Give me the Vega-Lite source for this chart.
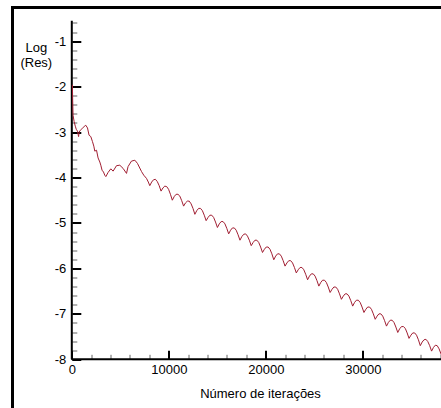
{
  "$schema": "https://vega.github.io/schema/vega-lite/v6.json",
  "width": 460,
  "height": 420,
  "autosize": "none",
  "padding": {"left": 12.5, "top": 7.5, "right": 0, "bottom": 0},
  "background": "white",
  "config": {
    "view": {"stroke": "black", "strokeWidth": 3},
    "font": "Liberation Sans"
  },
  "layer": [
    {
      "data": {"values": [{}]},
      "mark": {"type": "rule", "color": "black", "strokeWidth": 2},
      "encoding": {
        "x": {"datum": 0, "type": "quantitative"},
        "y": {"datum": -8, "type": "quantitative"},
        "y2": {"datum": -0.55}
      }
    },
    {
      "data": {"values": [{}]},
      "mark": {"type": "rule", "color": "black", "strokeWidth": 2},
      "encoding": {
        "x": {"datum": 0, "type": "quantitative"},
        "x2": {"datum": 41310},
        "y": {"datum": -8, "type": "quantitative"}
      }
    },
    {
      "data": {"values": [
        {"iter": 60, "logres": -1.96}, {"iter": 90, "logres": -2.29}, {"iter": 130, "logres": -2.63}, {"iter": 240, "logres": -2.77},
        {"iter": 360, "logres": -2.87}, {"iter": 460, "logres": -2.94}, {"iter": 590, "logres": -2.98}, {"iter": 650, "logres": -3.05},
        {"iter": 700, "logres": -3.1}, {"iter": 760, "logres": -3.0}, {"iter": 880, "logres": -2.96}, {"iter": 1080, "logres": -2.92},
        {"iter": 1270, "logres": -2.88}, {"iter": 1440, "logres": -2.85}, {"iter": 1620, "logres": -2.91}, {"iter": 1780, "logres": -3.07},
        {"iter": 1960, "logres": -3.1}, {"iter": 2130, "logres": -3.21}, {"iter": 2270, "logres": -3.31}, {"iter": 2370, "logres": -3.42},
        {"iter": 2550, "logres": -3.4}, {"iter": 2710, "logres": -3.57}, {"iter": 2890, "logres": -3.66}, {"iter": 2990, "logres": -3.73},
        {"iter": 3120, "logres": -3.84}, {"iter": 3270, "logres": -3.88}, {"iter": 3400, "logres": -3.95}, {"iter": 3510, "logres": -3.98},
        {"iter": 3740, "logres": -3.89}, {"iter": 4020, "logres": -3.81}, {"iter": 4260, "logres": -3.86}, {"iter": 4610, "logres": -3.74},
        {"iter": 4950, "logres": -3.73}, {"iter": 5290, "logres": -3.8}, {"iter": 5640, "logres": -3.91}, {"iter": 5800, "logres": -3.76},
        {"iter": 6150, "logres": -3.64}, {"iter": 6500, "logres": -3.62}, {"iter": 6770, "logres": -3.69}, {"iter": 7190, "logres": -3.87},
        {"iter": 7420, "logres": -3.95}, {"iter": 7700, "logres": -4.02}, {"iter": 7890, "logres": -4.1},
        {"iter": 8040, "logres": -4.18}, {"iter": 8234, "logres": -4.1}, {"iter": 8427, "logres": -4.05}, {"iter": 8621, "logres": -4.04}, {"iter": 8815, "logres": -4.09}, {"iter": 9008, "logres": -4.18},
        {"iter": 9202, "logres": -4.3}, {"iter": 9396, "logres": -4.23}, {"iter": 9589, "logres": -4.19}, {"iter": 9783, "logres": -4.2}, {"iter": 9977, "logres": -4.26}, {"iter": 10170, "logres": -4.37},
        {"iter": 10364, "logres": -4.5}, {"iter": 10558, "logres": -4.42}, {"iter": 10751, "logres": -4.37}, {"iter": 10945, "logres": -4.37}, {"iter": 11139, "logres": -4.41}, {"iter": 11332, "logres": -4.51},
        {"iter": 11526, "logres": -4.63}, {"iter": 11720, "logres": -4.56}, {"iter": 11913, "logres": -4.52}, {"iter": 12107, "logres": -4.52}, {"iter": 12301, "logres": -4.58}, {"iter": 12494, "logres": -4.68},
        {"iter": 12688, "logres": -4.81}, {"iter": 12882, "logres": -4.73}, {"iter": 13075, "logres": -4.68}, {"iter": 13269, "logres": -4.68}, {"iter": 13463, "logres": -4.73}, {"iter": 13656, "logres": -4.83},
        {"iter": 13850, "logres": -4.95}, {"iter": 14044, "logres": -4.88}, {"iter": 14237, "logres": -4.83}, {"iter": 14431, "logres": -4.83}, {"iter": 14625, "logres": -4.88}, {"iter": 14818, "logres": -4.98},
        {"iter": 15012, "logres": -5.1}, {"iter": 15206, "logres": -5.02}, {"iter": 15399, "logres": -4.97}, {"iter": 15593, "logres": -4.97}, {"iter": 15787, "logres": -5.02}, {"iter": 15980, "logres": -5.12},
        {"iter": 16174, "logres": -5.24}, {"iter": 16368, "logres": -5.16}, {"iter": 16561, "logres": -5.11}, {"iter": 16755, "logres": -5.11}, {"iter": 16949, "logres": -5.16}, {"iter": 17142, "logres": -5.26},
        {"iter": 17336, "logres": -5.38}, {"iter": 17530, "logres": -5.3}, {"iter": 17723, "logres": -5.25}, {"iter": 17917, "logres": -5.24}, {"iter": 18111, "logres": -5.29}, {"iter": 18304, "logres": -5.38},
        {"iter": 18498, "logres": -5.5}, {"iter": 18692, "logres": -5.43}, {"iter": 18885, "logres": -5.38}, {"iter": 19079, "logres": -5.38}, {"iter": 19273, "logres": -5.43}, {"iter": 19466, "logres": -5.53},
        {"iter": 19660, "logres": -5.65}, {"iter": 19854, "logres": -5.58}, {"iter": 20047, "logres": -5.53}, {"iter": 20241, "logres": -5.53}, {"iter": 20435, "logres": -5.58}, {"iter": 20628, "logres": -5.68},
        {"iter": 20822, "logres": -5.81}, {"iter": 21016, "logres": -5.73}, {"iter": 21209, "logres": -5.68}, {"iter": 21403, "logres": -5.68}, {"iter": 21597, "logres": -5.73}, {"iter": 21790, "logres": -5.83},
        {"iter": 21984, "logres": -5.95}, {"iter": 22178, "logres": -5.88}, {"iter": 22371, "logres": -5.83}, {"iter": 22565, "logres": -5.83}, {"iter": 22759, "logres": -5.88}, {"iter": 22952, "logres": -5.98},
        {"iter": 23146, "logres": -6.1}, {"iter": 23340, "logres": -6.03}, {"iter": 23533, "logres": -5.98}, {"iter": 23727, "logres": -5.98}, {"iter": 23921, "logres": -6.03}, {"iter": 24114, "logres": -6.13},
        {"iter": 24308, "logres": -6.25}, {"iter": 24502, "logres": -6.17}, {"iter": 24695, "logres": -6.12}, {"iter": 24889, "logres": -6.12}, {"iter": 25083, "logres": -6.17}, {"iter": 25276, "logres": -6.27},
        {"iter": 25470, "logres": -6.39}, {"iter": 25664, "logres": -6.31}, {"iter": 25857, "logres": -6.26}, {"iter": 26051, "logres": -6.26}, {"iter": 26245, "logres": -6.31}, {"iter": 26438, "logres": -6.41},
        {"iter": 26632, "logres": -6.53}, {"iter": 26826, "logres": -6.46}, {"iter": 27019, "logres": -6.41}, {"iter": 27213, "logres": -6.41}, {"iter": 27407, "logres": -6.46}, {"iter": 27600, "logres": -6.56},
        {"iter": 27794, "logres": -6.68}, {"iter": 27988, "logres": -6.61}, {"iter": 28181, "logres": -6.56}, {"iter": 28375, "logres": -6.56}, {"iter": 28569, "logres": -6.61}, {"iter": 28762, "logres": -6.71},
        {"iter": 28956, "logres": -6.83}, {"iter": 29150, "logres": -6.75}, {"iter": 29343, "logres": -6.7}, {"iter": 29537, "logres": -6.7}, {"iter": 29731, "logres": -6.75}, {"iter": 29924, "logres": -6.85},
        {"iter": 30118, "logres": -6.97}, {"iter": 30312, "logres": -6.9}, {"iter": 30505, "logres": -6.85}, {"iter": 30699, "logres": -6.85}, {"iter": 30893, "logres": -6.9}, {"iter": 31086, "logres": -7.0},
        {"iter": 31280, "logres": -7.12}, {"iter": 31474, "logres": -7.05}, {"iter": 31667, "logres": -7.0}, {"iter": 31861, "logres": -7.0}, {"iter": 32055, "logres": -7.05}, {"iter": 32248, "logres": -7.15},
        {"iter": 32442, "logres": -7.27}, {"iter": 32636, "logres": -7.19}, {"iter": 32829, "logres": -7.14}, {"iter": 33023, "logres": -7.14}, {"iter": 33217, "logres": -7.19}, {"iter": 33410, "logres": -7.29},
        {"iter": 33604, "logres": -7.41}, {"iter": 33798, "logres": -7.33}, {"iter": 33991, "logres": -7.28}, {"iter": 34185, "logres": -7.28}, {"iter": 34379, "logres": -7.32}, {"iter": 34572, "logres": -7.42},
        {"iter": 34766, "logres": -7.54}, {"iter": 34960, "logres": -7.47}, {"iter": 35153, "logres": -7.42}, {"iter": 35347, "logres": -7.42}, {"iter": 35541, "logres": -7.47}, {"iter": 35734, "logres": -7.57},
        {"iter": 35928, "logres": -7.7}, {"iter": 36122, "logres": -7.62}, {"iter": 36315, "logres": -7.57}, {"iter": 36509, "logres": -7.56}, {"iter": 36703, "logres": -7.61}, {"iter": 36896, "logres": -7.7},
        {"iter": 37090, "logres": -7.82}, {"iter": 37284, "logres": -7.74}, {"iter": 37477, "logres": -7.69}, {"iter": 37671, "logres": -7.7}, {"iter": 37865, "logres": -7.77}, {"iter": 38058, "logres": -7.88},
        {"iter": 38252, "logres": -7.97}
      ]},
      "mark": {"type": "line", "color": "#a01e32", "strokeWidth": 1, "clip": true},
      "encoding": {
        "x": {
          "field": "iter", "type": "quantitative",
          "scale": {"domain": [-6113, 41310], "nice": false, "zero": false},
          "axis": {
            "values": [0, 2000, 4000, 6000, 8000, 10000, 12000, 14000, 16000, 18000, 20000, 22000, 24000, 26000, 28000, 30000, 32000, 34000, 36000, 38000],
            "tickCount": 200,
            "domain": false, "grid": false, "offset": -68.2,
            "tickSize": {"condition": {"test": "datum.value % 10000 === 0", "value": -9}, "value": -5},
            "tickWidth": {"condition": {"test": "datum.value % 10000 === 0", "value": 2}, "value": 1},
            "tickColor": {"condition": {"test": "datum.value % 10000 === 0", "value": "black"}, "value": "#666666"},
            "labelExpr": "datum.value % 10000 === 0 ? '' + datum.value : ''",
            "labelPadding": 13, "labelFontSize": 13, "labelColor": "black", "labelFont": "Liberation Sans",
            "labelOverlap": false, "labelFlush": false, "labelBound": false,
            "title": "Número de iterações", "titleFont": "Liberation Sans", "titleFontSize": 13, "titleFontWeight": "normal", "titleColor": "black",
            "titleAnchor": "start", "titleAlign": "center", "titleBaseline": "top", "titleX": 247.5, "titleY": 28
          }
        },
        "y": {
          "field": "logres", "type": "quantitative",
          "scale": {"domain": [-9.5006, -0.26], "nice": false, "zero": false},
          "axis": {
            "values": [-8, -7.8, -7.6, -7.4, -7.2, -7, -6.8, -6.6, -6.4, -6.2, -6, -5.8, -5.6, -5.4, -5.2, -5, -4.8, -4.6, -4.4, -4.2, -4, -3.8, -3.6, -3.4, -3.2, -3, -2.8, -2.6, -2.4, -2.2, -2, -1.8, -1.6, -1.4, -1.2, -1, -0.8, -0.6],
            "tickCount": 200,
            "domain": false, "grid": false, "offset": -59.3,
            "tickSize": {"condition": {"test": "abs(datum.value - round(datum.value)) < 0.001", "value": -9}, "value": -5},
            "tickWidth": {"condition": {"test": "abs(datum.value - round(datum.value)) < 0.001", "value": 2}, "value": 1},
            "tickColor": {"condition": {"test": "abs(datum.value - round(datum.value)) < 0.001", "value": "black"}, "value": "#666666"},
            "labelExpr": "abs(datum.value - round(datum.value)) < 0.001 ? '' + round(datum.value) : ''",
            "labelPadding": 15, "labelFontSize": 13, "labelColor": "black", "labelFont": "Liberation Sans",
            "labelOverlap": false, "labelFlush": false, "labelBound": false,
            "title": ["Log", "(Res)"], "titleFont": "Liberation Sans", "titleFontSize": 13, "titleFontWeight": "normal", "titleColor": "black",
            "titleAngle": 0, "titleAlign": "center", "titleBaseline": "top", "titleX": -36, "titleY": 34, "titleLineHeight": 15
          }
        }
      }
    }
  ]
}
